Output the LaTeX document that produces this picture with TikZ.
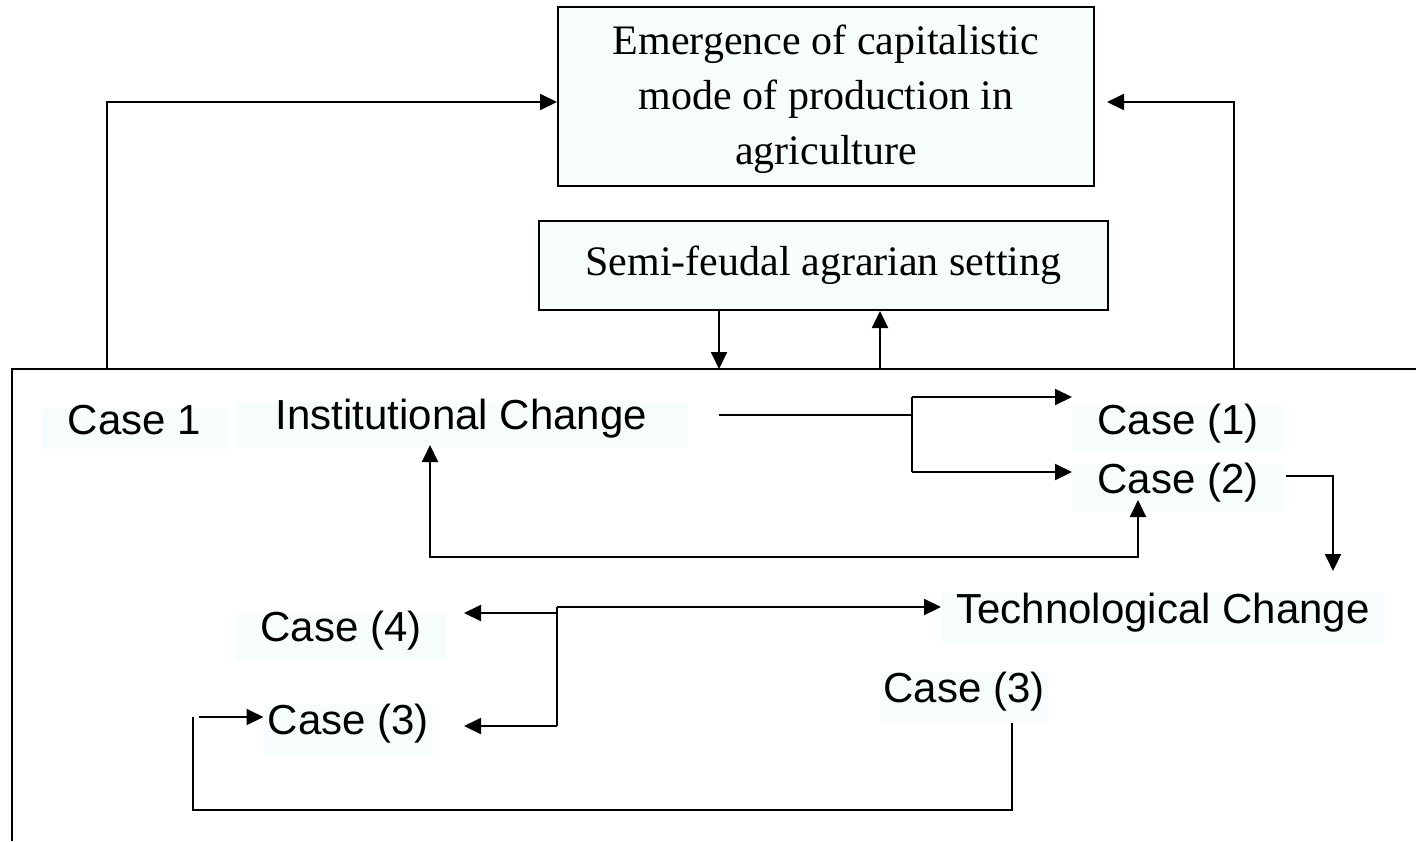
\documentclass[tikz,border=0pt]{standalone}
\usepackage{fontspec}
\setmainfont{Liberation Serif}
\setsansfont{Liberation Sans}
\usetikzlibrary{arrows.meta}
\definecolor{boxfill}{RGB}{247,252,253}
\begin{document}
\begin{tikzpicture}[x=0.5pt,y=-0.5pt,
  line width=1pt,
  arr/.style={-{Triangle[length=8.5pt,width=8pt]}},
  biarr/.style={{Triangle[length=8.5pt,width=8pt]}-{Triangle[length=8.5pt,width=8pt]}},
  serifbox/.style={draw, fill=boxfill, inner sep=0pt, align=center, font=\fontsize{21}{27.5}\selectfont},
  casebox/.style={fill=boxfill, inner sep=0pt, font=\sffamily\fontsize{21}{25}\selectfont, text height=0.75em, text depth=0.25em},
]
\useasboundingbox (0,0) rectangle (1416,841);

% boxes
\node[serifbox, minimum width=268pt, minimum height=89.5pt] (top) at (826,96.5) {\rule{0pt}{18pt}Emergence of capitalistic\\mode of production in\\agriculture};
\node[serifbox, minimum width=284.5pt, minimum height=44.5pt] (semi) at (823.5,265.5) {Semi-feudal agrarian setting};

% text labels
\node[casebox, minimum width=93pt, minimum height=20pt] (case1) at (134.5,429) {Case 1};
\node[casebox, minimum width=226pt, minimum height=22pt] (inst) at (461.5,424.5) {Institutional Change};
\node[casebox, minimum width=105pt, minimum height=23pt] (c1) at (1178,429) {Case (1)};
\node[casebox, minimum width=105pt, minimum height=23pt] (c2) at (1178,488) {Case (2)};
\node[casebox, minimum width=221pt, minimum height=25pt] (tech) at (1163,618) {Technological Change};
\node[casebox, minimum width=105pt, minimum height=23pt] (c4) at (341,636.5) {Case (4)};
\node[casebox, minimum width=84pt, minimum height=25pt] (c3a) at (348.5,729.5) {Case (3)};
\node[casebox, minimum width=83.5pt, minimum height=25pt] (c3b) at (964,697) {Case (3)};

% frame
\coordinate (fBL) at (12,841);
\coordinate (fTL) at (12,369);
\coordinate (fTR) at (1416,369);
\draw (fBL) -- (fTL) -- (fTR);

% left and right arrows to top box
\coordinate (l1) at (107,369);
\coordinate (l1top) at (107,102);
\draw[arr] (l1) -- (l1top) -- (l1top -| top.west);
\coordinate (r1) at (1234,369);
\coordinate (r1top) at (1234,102);
\draw[arr] (r1) -- (r1top) -- ([xshift=6pt]r1top -| top.east);

% semi-feudal arrows
\coordinate (d1) at (719,369);
\coordinate (u1) at (880,369);
\draw[arr] (semi.south -| d1) -- (d1);
\draw[arr] (u1) -- (semi.south -| u1);

% institutional change split
\coordinate (split) at (912,415);
\coordinate (sp1) at (912,397);
\coordinate (sp2) at (912,472);
\draw ([xshift=15pt]inst.east |- split) -- (split);
\draw (sp1) -- (sp2);
\draw[arr] (sp1) -- (sp1 -| c1.west);
\draw[arr] (sp2) -- (sp2 -| c2.west);

% case (2) to technological change
\coordinate (c2r) at (1333,476);
\coordinate (c2d) at (1333,571);
\draw[arr] ([xshift=1pt]c2.east |- c2r) -- (c2r) -- (c2d);

% loop between institutional change and case (2)
\coordinate (lpL) at (430,557);
\coordinate (lpR) at (1138,557);
\coordinate (lpRt) at (1138,500);
\coordinate (lpLt) at (430,445);
\draw[biarr] (lpLt) -- (lpL) -- (lpR) -- (lpRt);

% technological change fan
\coordinate (fk) at (557,607);
\coordinate (fk2) at (557,726);
\coordinate (fk4) at (557,613);
\draw[arr] (fk) -- (fk -| tech.west);
\draw (fk) -- (fk2);
\draw[arr] (fk4) -- ([xshift=8.5pt]fk4 -| c4.east);
\draw[arr] (fk2) -- ([xshift=8.5pt]fk2 -| c4.east);

% bottom loop from case (3) right to case (3) left
\coordinate (b1) at (1012,723);
\coordinate (b2) at (1012,810);
\coordinate (b3) at (193,810);
\coordinate (b4) at (193,717);
\coordinate (b5) at (199,717);
\draw (b1) -- (b2) -- (b3) -- (b4);
\draw[arr] (b5) -- (b5 -| c3a.west);
\end{tikzpicture}
\end{document}
